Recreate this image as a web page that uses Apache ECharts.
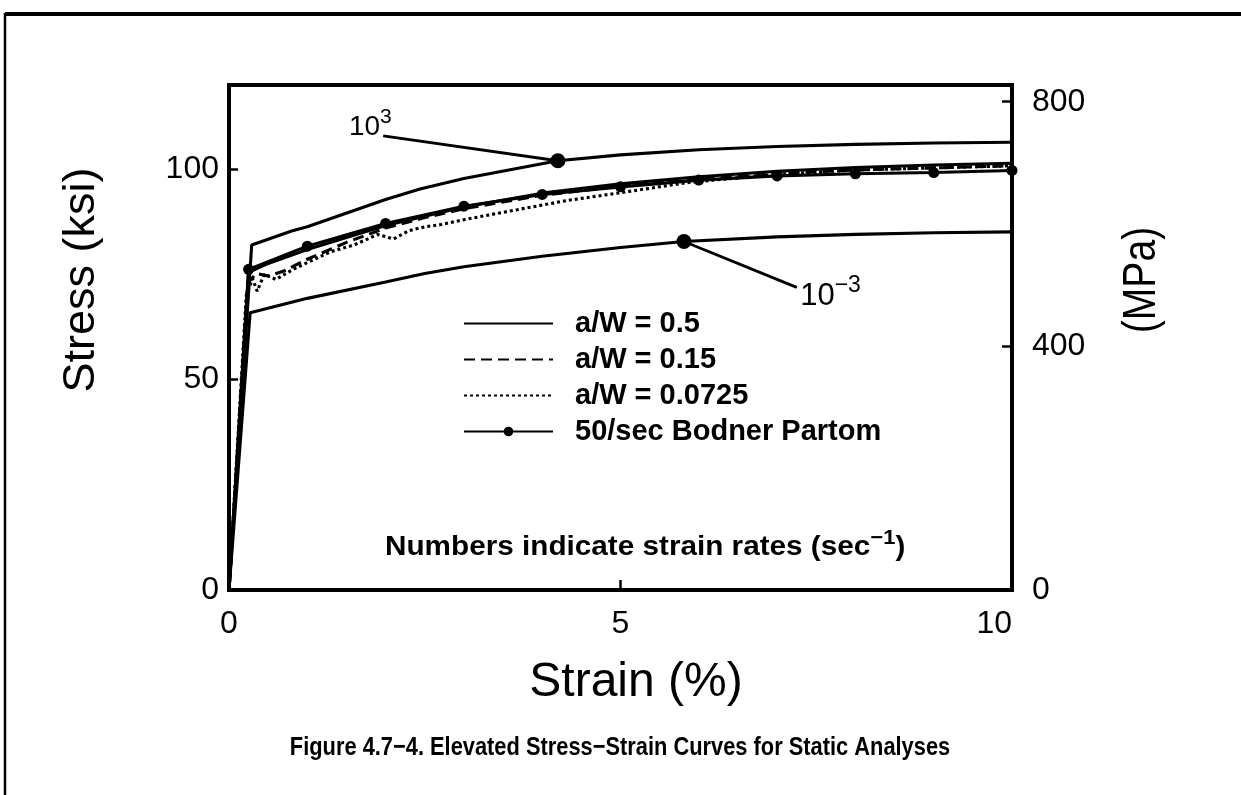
<!DOCTYPE html>
<html>
<head>
<meta charset="utf-8">
<script src="https://cdn.jsdelivr.net/npm/echarts@6/dist/echarts.min.js"></script>
<style>
  html, body { margin: 0; padding: 0; background: #ffffff; }
  #chart { width: 1241px; height: 795px; }
</style>
</head>
<body>
<div id="chart"></div>
<script>
// Stress-strain curves: [strain (%), stress (ksi)]
const rateHigh = [[0, 0], [0.29, 82.0], [0.8, 85.3], [1, 86.3], [2, 92.8], [2.44, 95.3], [3, 97.8],
  [4.2, 102.0], [5, 103.4], [6, 104.6], [7, 105.4], [8, 105.9], [9, 106.2], [10, 106.4]];
const rateLow = [[0, 0], [0.27, 65.9], [1, 69.3], [2, 73.2], [2.5, 75.2], [3, 76.8], [4, 79.3],
  [5, 81.4], [5.81, 82.8], [7, 83.9], [8, 84.5], [9, 84.9], [10, 85.1]];
const aw050 = [[0, 0], [0.25, 75.5], [0.5, 77.6], [1, 80.9], [2, 86.6], [3, 91.0], [4, 94.3],
  [5, 96.5], [6, 98.2], [7, 99.5], [8, 100.4], [9, 101.0], [10, 101.4]];
const aw015 = [[0, 0], [0.24, 73.0], [0.35, 75.2], [0.5, 74.6], [0.7, 75.8], [1, 78.6], [1.5, 82.6],
  [2, 86.0], [2.5, 88.5], [3, 90.6], [4, 93.8], [5, 96.0], [6, 97.8], [7, 99.0], [8, 99.8],
  [9, 100.3], [10, 100.8]];
const aw0725 = [[0, 0], [0.22, 70.0], [0.3, 74.0], [0.36, 71.0], [0.45, 75.0], [0.6, 73.8],
  [0.8, 76.0], [1, 77.8], [1.3, 80.4], [1.6, 82.0], [1.9, 84.5], [2.1, 83.4], [2.3, 85.4],
  [2.5, 86.3], [2.7, 86.8], [3, 88.0], [3.72, 90.5], [4.3, 92.5], [5, 94.4], [5.85, 96.8],
  [7, 98.8], [8, 99.8], [9, 100.3], [10, 100.8]];
const bodner = [[0, 0], [0.25, 76.2], [1, 81.7], [2, 87.1], [3, 91.2], [4, 94.0], [5, 95.8],
  [6, 97.4], [7, 98.4], [8, 98.9], [9, 99.2], [10, 99.7]];

// Leader lines: [label end, point on curve]
const leaderHigh = [[1.97, 107.9], [4.2, 102.0]];
const leaderLow = [[7.25, 71.9], [5.81, 82.8]];
const leaderHighText = ['10', '3'];
const leaderLowText = ['10', '\u22123'];

const legendNames = ['a/W = 0.5', 'a/W = 0.15', 'a/W = 0.0725', '50/sec Bodner Partom'];

// Axes
const strainMin = 0, strainMax = 10, strainStep = 5;
const ksiMin = 0, ksiMax = 120, ksiStep = 50;
const MPA_PER_KSI = 6.895;
const mpaStep = 400;

const FONT = '"Liberation Sans", Arial, Helvetica, sans-serif';
const INK = '#000000';
const LINE_W = 3.1;

const chart = echarts.init(document.getElementById('chart'), null, { renderer: 'canvas' });

function curve(name, data, dash, width) {
  return {
    name: name,
    type: 'line',
    data: data,
    symbol: 'none',
    smooth: false,
    silent: true,
    animation: false,
    lineStyle: { color: INK, width: width, type: dash },
    itemStyle: { color: INK },
    z: 3
  };
}

function leader(pts, text, labelPos, labelOffset, baseSize, supSize) {
  return {
    type: 'line',
    silent: true,
    animation: false,
    data: [
      {
        value: pts[0], symbol: 'circle', symbolSize: 1,
        label: {
          show: true, position: labelPos, offset: labelOffset,
          formatter: '{b|' + text[0] + '}{s|' + text[1] + '}',
          rich: {
            b: { fontFamily: FONT, fontSize: baseSize, color: INK, padding: [7, 0, 0, 0] },
            s: { fontFamily: FONT, fontSize: supSize, color: INK, verticalAlign: 'top' }
          }
        }
      },
      { value: pts[1], symbol: 'circle', symbolSize: 15 }
    ],
    lineStyle: { color: INK, width: 2.8 },
    itemStyle: { color: INK },
    z: 5
  };
}

const bodnerData = bodner.map(function (p) {
  return (p[0] === 0 && p[1] === 0) ? { value: p, symbol: 'none' } : p;
});

const option = {
  backgroundColor: '#ffffff',
  animation: false,
  grid: {
    left: 229, right: 229, top: 85, bottom: 205,
    show: true, borderColor: INK, borderWidth: 4, backgroundColor: 'transparent'
  },
  legend: {
    show: true,
    data: legendNames.map(function (n) {
      return n === legendNames[3] ? { name: n } : { name: n, itemStyle: { opacity: 0 } };
    }),
    orient: 'vertical',
    left: 458, top: 304,
    itemWidth: 89, itemHeight: 12, itemGap: 7,
    selectedMode: false,
    textStyle: {
      fontFamily: FONT, fontSize: 29, fontWeight: 'bold', color: INK,
      lineHeight: 29, padding: [0, 0, 0, 17]
    }
  },
  xAxis: {
    type: 'value', min: strainMin, max: strainMax, interval: strainStep,
    axisLine: { show: true, lineStyle: { color: INK, width: 4 } },
    axisTick: { show: true, inside: true, length: 10, lineStyle: { color: INK, width: 2.5 } },
    axisLabel: {
      show: true, margin: 18, fontFamily: FONT, fontSize: 32, color: INK,
      alignMaxLabel: 'right'
    },
    splitLine: { show: false }
  },
  yAxis: [
    {
      type: 'value', min: ksiMin, max: ksiMax, interval: ksiStep, position: 'left',
      axisLine: { show: true, lineStyle: { color: INK, width: 4 } },
      axisTick: { show: true, inside: true, length: 9, lineStyle: { color: INK, width: 2.5 } },
      axisLabel: { show: true, margin: 10, fontFamily: FONT, fontSize: 32, color: INK, showMaxLabel: false },
      splitLine: { show: false }
    },
    {
      type: 'value', min: ksiMin * MPA_PER_KSI, max: ksiMax * MPA_PER_KSI, interval: mpaStep,
      position: 'right',
      axisLine: { show: true, lineStyle: { color: INK, width: 4 } },
      axisTick: { show: true, inside: true, length: 10, lineStyle: { color: INK, width: 2.5 } },
      axisLabel: { show: true, margin: 20, fontFamily: FONT, fontSize: 32, color: INK, showMaxLabel: false },
      splitLine: { show: false }
    }
  ],
  series: [
    curve('rateHigh', rateHigh, 'solid', LINE_W),
    curve('rateLow', rateLow, 'solid', LINE_W),
    curve(legendNames[0], aw050, 'solid', LINE_W),
    curve(legendNames[1], aw015, [11, 6], LINE_W),
    curve(legendNames[2], aw0725, [3, 3], LINE_W),
    {
      name: legendNames[3],
      type: 'line',
      data: bodnerData,
      symbol: 'circle',
      symbolSize: 11,
      showAllSymbol: true,
      silent: true,
      animation: false,
      lineStyle: { color: INK, width: LINE_W },
      itemStyle: { color: INK },
      z: 4
    },
    leader(leaderHigh, leaderHighText, 'left', [14, -12], 28, 21),
    leader(leaderLow, leaderLowText, 'right', [-2, 6], 31, 23)
  ],
  graphic: [
    // page frame
    { type: 'line', shape: { x1: 5, y1: 14, x2: 1241, y2: 14 }, style: { stroke: INK, lineWidth: 4 }, silent: true },
    { type: 'line', shape: { x1: 5, y1: 13, x2: 5, y2: 795 }, style: { stroke: INK, lineWidth: 2.5 }, silent: true },
    // axis titles
    {
      type: 'text', x: 82, y: 280, rotation: Math.PI / 2, silent: true,
      style: { text: 'Stress (ksi)', fontFamily: FONT, fontSize: 45, fill: INK, align: 'center', verticalAlign: 'middle' }
    },
    {
      type: 'text', x: 1142, y: 280, rotation: Math.PI / 2, scaleX: 0.85, silent: true,
      style: { text: '(MPa)', fontFamily: FONT, fontSize: 46, fill: INK, align: 'center', verticalAlign: 'middle' }
    },
    {
      type: 'text', x: 636, y: 683, silent: true,
      style: { text: 'Strain (%)', fontFamily: FONT, fontSize: 48, fill: INK, align: 'center', verticalAlign: 'middle' }
    },
    // note inside the plot
    {
      type: 'text', x: 385, y: 545, scaleX: 1.1, silent: true,
      style: {
        text: '{t|Numbers indicate strain rates (sec}{s|\u22121}{t|)}',
        align: 'left', verticalAlign: 'middle',
        rich: {
          t: { fontFamily: FONT, fontSize: 27, fontWeight: 'bold', fill: INK, padding: [6, 0, 0, 0] },
          s: { fontFamily: FONT, fontSize: 20, fontWeight: 'bold', fill: INK, verticalAlign: 'top' }
        }
      }
    },
    // caption
    {
      type: 'text', x: 620, y: 748, scaleX: 0.84, silent: true,
      style: {
        text: 'Figure 4.7\u22124. Elevated Stress\u2212Strain Curves for Static Analyses',
        fontFamily: FONT, fontSize: 26, fontWeight: 'bold', fill: INK, align: 'center', verticalAlign: 'middle'
      }
    }
  ]
};

chart.setOption(option);
</script>
</body>
</html>
